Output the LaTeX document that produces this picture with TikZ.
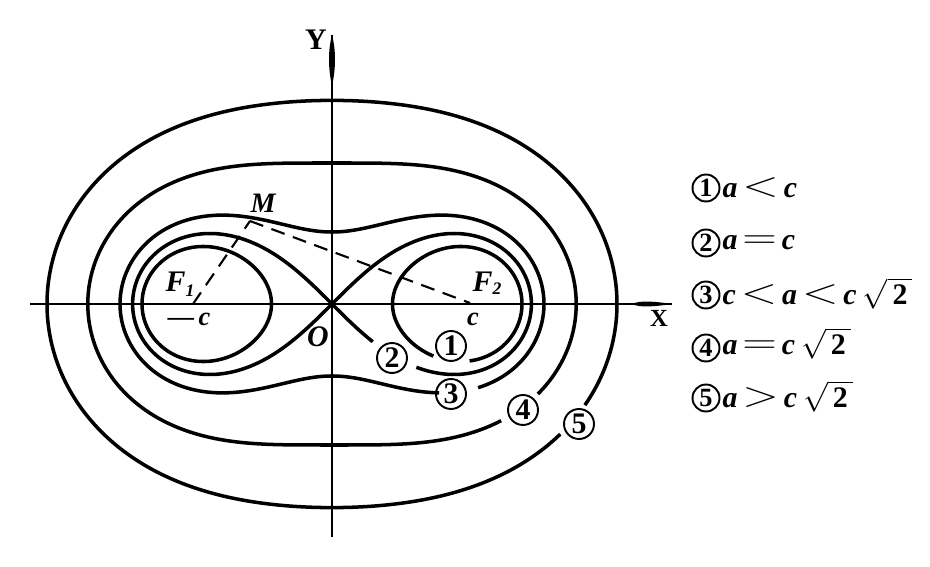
\RequirePackage{fix-cm}
\documentclass[tikz,border=0pt]{standalone}
\usepackage{fontspec}
\setmainfont{Liberation Serif}
\usepackage{graphicx}
\newcommand{\bi}[1]{\textbf{\textit{#1}}}
\newcommand{\rel}[1]{\,\raisebox{0.1ex}{\scalebox{1.6}[1.2]{$#1$}}\,}
\newcommand{\rtwo}{\hspace{0.2em}\smash{$\sqrt{\,\textbf{2}\,}$}}
\begin{document}
\begin{tikzpicture}[x=0.02cm, y=-0.02cm,
  declare function={
    rB(\t,\A)=141*sqrt(cos(2*\t)+sqrt(\A*\A-sin(2*\t)*sin(2*\t)));
    thA(\s)=0.5*asin(0.8158*sin(\s));
    rA(\s)=141*sqrt(sqrt(1-0.66553*sin(\s)*sin(\s))+0.8158*cos(\s));
    lx(\t)=199.4*cos(\t)/(1+sin(\t)*sin(\t));
    ly(\t)=199.4*sin(\t)*cos(\t)/(1+sin(\t)*sin(\t));
  },
  curve/.style={line width=2pt, line join=round, line cap=butt},
  axisline/.style={line width=1.3pt},
  dashline/.style={line width=1.2pt, dash pattern=on 8pt off 5pt},
  lab/.style={circle, draw, line width=1.1pt, inner sep=0pt, minimum size=0.6cm,
    font=\fontsize{17}{17}\selectfont\bfseries},
  legc/.style={circle, draw, line width=1.1pt, inner sep=0pt, minimum size=0.54cm,
    font=\fontsize{15}{15}\selectfont\bfseries},
  legt/.style={anchor=west, inner sep=0pt, font=\fontsize{17}{17}\selectfont},
  letter/.style={inner sep=0pt, font=\fontsize{17}{17}\selectfont\bfseries\itshape},
]
\useasboundingbox (0,0) rectangle (930,567);

% axes
\coordinate (xl) at (30,304);
\coordinate (xr) at (672,304);
\coordinate (yt) at (332,35);
\coordinate (yb) at (332,537);
\draw[axisline] (xl) -- (xr);
\draw[axisline] (yt) -- (yb);
\fill (332,35) .. controls (336,50) and (336,68) .. (332,86)
      .. controls (328,68) and (328,50) .. (332,35);
\fill (632,304) .. controls (640,300) and (655,301.5) .. (672,304)
      .. controls (655,306.5) and (640,308) .. (632,304);

% curve 1 (a<c): two loops
\draw[curve] plot[domain=85:420, samples=300, smooth]
  ({332+rA(\x)*cos(thA(\x))}, {304+rA(\x)*sin(thA(\x))});
\draw[curve] plot[domain=0:360, samples=300, smooth]
  ({332-rA(\x)*cos(thA(\x))}, {304+rA(\x)*sin(thA(\x))}) -- cycle;
% curve 2 (a=c): lemniscate
\draw[curve] plot[domain=67.7:408.6, samples=400, smooth]
  ({332+lx(\x)}, {304+ly(\x)});
% curve 3
\draw[curve] plot[domain=39.7:389.8, samples=300, smooth]
  ({332+rB(\x,1.2607)*cos(\x)}, {304+rB(\x,1.2607)*sin(\x)});
% curve 4
\draw[curve] plot[domain=34.6:383.6, samples=300, smooth]
  ({332+rB(\x,2)*cos(\x)}, {304+rB(\x,2)*sin(\x)});
% curve 5
\draw[curve] plot[domain=29.7:381.8, samples=300, smooth]
  ({332+rB(\x,3.0855)*cos(\x)}, {304+rB(\x,3.0855)*sin(\x)});

% foci and M
\coordinate (F1) at (193,304);
\coordinate (F2) at (470,303);
\coordinate (M) at (250,221);
\draw[dashline] (F1) -- (M);
\draw[dashline] (M) -- (F2);

% curve labels
\node[lab] (c1) at (451,346) {1};
\node[lab] (c2) at (392,358) {2};
\node[lab] (c3) at (451,394) {3};
\node[lab] (c4) at (523,410) {4};
\node[lab] (c5) at (579,424) {5};

% letters
\node[inner sep=0pt, font=\fontsize{17}{17}\selectfont\bfseries] (Ylab) at (316,40) {Y};
\node[inner sep=0pt, font=\fontsize{14}{14}\selectfont\bfseries] (Xlab) at (659,318) {X};
\node[letter] (Olab) at (318,337) {O};
\node[letter, font=\fontsize{16}{16}\selectfont\bfseries\itshape] (Mlab) at (263,203) {M};
\node[letter] (F1lab) at (180,284) {F\raisebox{-0.35ex}{\fontsize{10}{10}\selectfont 1}};
\node[letter] (F2lab) at (487,283) {F\raisebox{-0.25ex}{\fontsize{10}{10}\selectfont 2}};
\node[letter, font=\fontsize{15}{15}\selectfont\bfseries\itshape] (mc) at (189,319) {---\,c};
\node[letter, font=\fontsize{15}{15}\selectfont\bfseries\itshape] (pc) at (473,319) {c};

% legend
\node[legc] (k1) at (706,188) {1};
\node[legc] (k2) at (706,243) {2};
\node[legc] (k3) at (706,295) {3};
\node[legc] (k4) at (706,348) {4};
\node[legc] (k5) at (706,398) {5};
\node[legt] (t1) at ([xshift=1pt]k1.east) {\bi{a}\rel{<}\bi{c}};
\node[legt] (t2) at ([xshift=1pt]k2.east) {\bi{a}\rel{=}\bi{c}};
\node[legt] (t3) at ([xshift=1pt]k3.east) {\bi{c}\rel{<}\bi{a}\rel{<}\bi{c}\rtwo};
\node[legt] (t4) at ([xshift=1pt]k4.east) {\bi{a}\rel{=}\bi{c}\rtwo};
\node[legt] (t5) at ([xshift=1pt]k5.east) {\bi{a}\rel{>}\bi{c}\rtwo};
\end{tikzpicture}
\end{document}
